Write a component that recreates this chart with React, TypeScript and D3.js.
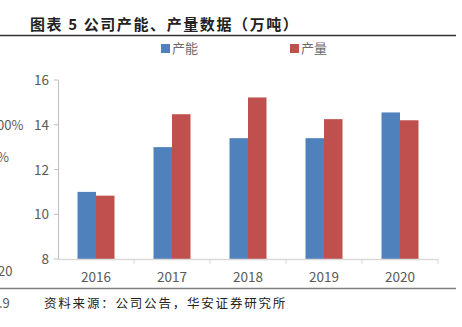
import React from "react";
import * as d3 from "d3";

const years = ["2016", "2017", "2018", "2019", "2020"];
const capacity = [11.0, 13.0, 13.4, 13.4, 14.55];
const output = [10.83, 14.47, 15.22, 14.25, 14.2];
const yTicks = [8, 10, 12, 14, 16];
const seriesNames = ["产能", "产量"];
const colors = ["#4F81BD", "#C0504D"];

export default function App() {
  const W = 462, H = 327;
  const x = d3.scaleBand<string>().domain(years).range([58, 438]).paddingInner(0).paddingOuter(0);
  const y = d3.scaleLinear().domain([8, 16]).range([259, 80]);
  const barW = 18.5;
  const font = "'Microsoft YaHei', 'Noto Sans CJK SC', sans-serif";
  const series = [capacity, output];
  return (
    <svg width={W} height={H} style={{ position: "absolute", left: 0, top: 0, background: "#fff" }}>
      <text x={30} y={30} fontSize={15} fontWeight="bold" fill="#222" letterSpacing={1.6} fontFamily="'Noto Sans CJK SC', sans-serif">图表 5 公司产能、产量数据（万吨）</text>
      <line x1={0} x2={456} y1={35.5} y2={35.5} stroke="#333" strokeWidth={1.5} />
      {/* left fragments from neighbouring chart */}
      <text x={-3} y={130} fontSize={13} fill="#595959" fontFamily={font}>00%</text>
      <text x={-3} y={162} fontSize={13} fill="#595959" fontFamily={font}>%</text>
      <text x={-2} y={276} fontSize={13} fill="#595959" fontFamily={font}>20</text>
      <text x={-1} y={308} fontSize={13} fill="#595959" fontFamily={font}>.9</text>
      {/* legend */}
      {seriesNames.map((n, i) => (
        <g key={n} transform={`translate(${[161, 290][i]},0)`}>
          <rect x={0} y={44} width={9} height={9} fill={colors[i]} />
          <text x={11} y={53} fontSize={13} fill="#6b6b6b" fontFamily={font}>{n}</text>
        </g>
      ))}
      {/* y axis */}
      <line x1={58.5} x2={58.5} y1={80} y2={259} stroke="#BFBFBF" />
      {yTicks.map((t) => (
        <g key={t}>
          <line x1={54} x2={58.5} y1={y(t)} y2={y(t)} stroke="#BFBFBF" />
          <text x={49} y={y(t) + 5} fontSize={13.5} textAnchor="end" fill="#595959" fontFamily={font}>{t}</text>
        </g>
      ))}
      {/* bars */}
      {years.map((yr, i) => {
        const cx = (x(yr) as number) + x.bandwidth() / 2;
        return series.map((s, k) => (
          <rect key={yr + k} x={cx - barW + k * barW} y={y(s[i])} width={barW} height={y(8) - y(s[i])} fill={colors[k]} />
        ));
      })}
      {/* x axis */}
      <line x1={58} x2={438} y1={259.5} y2={259.5} stroke="#D9D9D9" strokeWidth={1.5} />
      {years.map((yr) => (
        <line key={"t" + yr} x1={(x(yr) as number) + x.bandwidth()} x2={(x(yr) as number) + x.bandwidth()} y1={259} y2={264} stroke="#D9D9D9" />
      ))}
      {years.map((yr) => (
        <text key={"l" + yr} x={(x(yr) as number) + x.bandwidth() / 2} y={282} fontSize={13.5} textAnchor="middle" fill="#595959" fontFamily={font}>{yr}</text>
      ))}
      <line x1={0} x2={456} y1={288.5} y2={288.5} stroke="#7F7F7F" strokeWidth={1.5} />
      <text x={44} y={308} fontSize={12.5} fill="#222" letterSpacing={1.8} fontFamily="'Noto Sans CJK SC', sans-serif">资料来源：公司公告，华安证券研究所</text>
    </svg>
  );
}
